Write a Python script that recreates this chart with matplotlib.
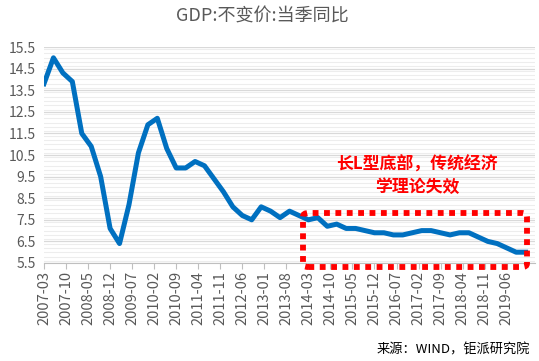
import matplotlib.pyplot as plt
import matplotlib.patches as mpatches
from matplotlib.ticker import MultipleLocator

plt.rcParams['font.family'] = ['Noto Sans CJK SC', 'DejaVu Sans']

# quarterly GDP yoy, 2007Q1 .. 2019Q4
gdp = [13.8, 15.0, 14.3, 13.9,
       11.5, 10.9, 9.5, 7.1,
       6.4, 8.2, 10.6, 11.9,
       12.2, 10.8, 9.9, 9.9,
       10.2, 10.0, 9.4, 8.8,
       8.1, 7.7, 7.5, 8.1,
       7.9, 7.6, 7.9, 7.7,
       7.5, 7.6, 7.2, 7.3,
       7.1, 7.1, 7.0, 6.9,
       6.9, 6.8, 6.8, 6.9,
       7.0, 7.0, 6.9, 6.8,
       6.9, 6.9, 6.7, 6.5,
       6.4, 6.2, 6.0, 6.0]
months = [3 * i for i in range(len(gdp))]  # months since 2007-03

tick_months = list(range(0, 148, 7))
tick_labels = []
for m in tick_months:
    y = 2007 + (m + 2) // 12
    mo = (m + 2) % 12 + 1
    tick_labels.append(f"{y}-{mo:02d}")

fig = plt.figure(figsize=(5.39, 3.61), dpi=100)
ax = fig.add_axes([44/539, 1-263/361, (535-44)/539, (263-47)/361])

ax.plot(months, gdp, color='#0070C0', lw=3.6, solid_joinstyle='round', zorder=3)

ax.set_xlim(0, 156)
ax.set_ylim(5.5, 15.5)
ax.set_yticks([5.5 + i for i in range(11)])
ax.yaxis.set_minor_locator(MultipleLocator(0.2))
ax.grid(True, which='major', axis='y', color='#D9D9D9', lw=0.9)
ax.grid(True, which='minor', axis='y', color='#EDEDED', lw=0.8)
ax.set_axisbelow(True)
ax.set_xticks(tick_months)
ax.set_xticklabels(tick_labels, rotation=90)
ax.tick_params(axis='x', colors='#595959', labelsize=10.5, length=4, color='#BFBFBF', pad=2)
ax.tick_params(axis='y', which='both', colors='#595959', labelsize=10, length=0, pad=6)
for s in ['top', 'right', 'left']:
    ax.spines[s].set_visible(False)
ax.spines['bottom'].set_color('#BFBFBF')

fig.text(262/539, 1-17/361, 'GDP:不变价:当季同比', ha='center', va='center',
         fontsize=13, color='#595959')

fig.text(417/539, 1-165/361, '长L型底部，传统经济', ha='center', va='center',
         fontsize=12.2, color='#FF0000', fontweight='bold')
fig.text(417/539, 1-187/361, '学理论失效', ha='center', va='center',
         fontsize=12.2, color='#FF0000', fontweight='bold')

box = mpatches.FancyBboxPatch((303/539, 1-267/361), (527-303)/539, (267-213)/361,
                              boxstyle='round,pad=0,rounding_size=0.01',
                              transform=fig.transFigure, fill=False,
                              edgecolor='#FF0000', lw=4.2, linestyle=(0, (1, 0.95)),
                              capstyle='butt', clip_on=False, zorder=5)
fig.patches.append(box)

fig.text(530/539, 1-350/361, '来源：WIND，钜派研究院', ha='right', va='center',
         fontsize=9.5, color='#000000')

fig.savefig('out.png', dpi=100)
